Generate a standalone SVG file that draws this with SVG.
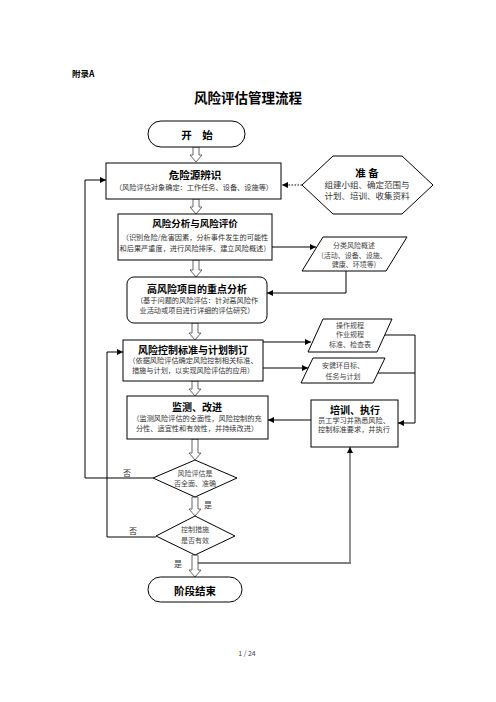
<svg xmlns="http://www.w3.org/2000/svg" width="496" height="702" viewBox="0 0 496 702">
<defs>
<style>
text{font-family:"Noto Sans CJK SC","Liberation Sans",sans-serif;text-anchor:middle;dominant-baseline:central;fill:#000}
.t{font-weight:bold;font-size:10px}
.s{font-size:7.2px;fill:#333}
.d{font-size:7px;fill:#444}
.box{fill:#fff;stroke:#000;stroke-width:1}
.dbl{fill:#fff;stroke:#666;stroke-width:1}
.ln{fill:none;stroke:#000;stroke-width:1}
</style>
<marker id="ah" viewBox="0 0 10 10" refX="10" refY="5" markerWidth="6" markerHeight="6" orient="auto" markerUnits="userSpaceOnUse"><path d="M0,0 L10,5 L0,10 z" fill="#000"/></marker>
</defs>
<rect width="496" height="702" fill="#fff"/>
<text x="72" y="73" style="font-size:8.5px;font-weight:bold;text-anchor:start">附录A</text>
<text x="248" y="97" style="font-size:13.5px;font-weight:bold">风险评估管理流程</text>
<text x="247" y="653" style="font-size:7px;fill:#444">1 / 24</text>

<g id="connectors">
<polygon class="dbl" points="193,147 199,147 199,155 202,155 196,162 190,155 193,155"/>
<polygon class="dbl" points="193,199 199,199 199,207 202,207 196,214 190,207 193,207"/>
<polygon class="dbl" points="193,260 199,260 199,270 202,270 196,277 190,270 193,270"/>
<polygon class="dbl" points="192,323 198,323 198,333 201,333 195,340 189,333 192,333"/>
<polygon class="dbl" points="192,381 198,381 198,389 201,389 195,396 189,389 192,389"/>
<polygon class="dbl" points="192,439 198,439 198,453 201,453 195,460 189,453 192,453"/>
<polygon class="dbl" points="192,497 198,497 198,509 201,509 195,516 189,509 192,509"/>
<polygon class="dbl" points="192,555 198,555 198,570 201,570 195,577 189,570 192,570"/>
<line x1="302" y1="185" x2="282" y2="185" stroke="#000" stroke-dasharray="1.5,1.5" marker-end="url(#ah)"/>
<line class="ln" x1="272" y1="247" x2="316" y2="247" marker-end="url(#ah)"/>
<polyline class="ln" points="346,271 346,293 267,293" marker-end="url(#ah)"/>
<line class="ln" x1="263" y1="342" x2="311" y2="342" marker-end="url(#ah)"/>
<line class="ln" x1="263" y1="368" x2="308" y2="368" marker-end="url(#ah)"/>
<polyline class="ln" points="385,335 415,335 415,423 398,423" marker-end="url(#ah)"/>
<line class="ln" x1="378" y1="373" x2="415" y2="373"/>
<line class="ln" x1="311" y1="420" x2="268" y2="420" marker-end="url(#ah)"/>
<polyline class="ln" points="153,478 85,478 85,180 106,180" marker-end="url(#ah)"/>
<polyline class="ln" points="156,537 107,537 107,352 123,352" marker-end="url(#ah)"/>
<line class="ln" x1="198" y1="563" x2="351" y2="563"/>
<line x1="350" y1="563" x2="350" y2="447" stroke="#777" stroke-width="1.6" marker-end="url(#ah)"/>
<text x="127" y="472" style="font-size:8px;fill:#333">否</text>
<text x="133" y="530" style="font-size:8px;fill:#333">否</text>
<text x="208" y="504" style="font-size:8px;fill:#333">是</text>
<text x="178" y="563" style="font-size:8px;fill:#333">是</text>
</g>

<g id="start">
<rect class="box" x="148" y="121" width="97" height="26" rx="13"/>
<text class="t" x="197" y="134" style="font-size:10.5px">开　始</text>
</g>

<g id="hazard">
<rect class="box" x="106" y="163" width="175" height="36"/>
<text class="t" x="195" y="174" style="font-size:10.5px">危险源辨识</text>
<text class="s" x="194" y="187">（风险评估对象确定：工作任务、设备、设施等）</text>
</g>

<g id="prepare">
<polygon class="box" points="302,185 333,156 402,156 433,185 402,214 333,214"/>
<text class="t" x="367" y="172" style="font-size:10.5px">准 备</text>
<text x="367" y="184" style="font-size:8.5px;fill:#333">组建小组、确定范围与</text>
<text x="367" y="195" style="font-size:8.5px;fill:#333">计划、培训、收集资料</text>
</g>

<g id="analysis">
<rect class="box" x="118" y="214" width="154" height="46"/>
<text class="t" x="195" y="223" style="font-size:9.5px">风险分析与风险评价</text>
<text class="s" x="195" y="237">（识别危险/危害因素，分析事件发生的可能性</text>
<text class="s" x="195" y="248">和后果严重度，进行风险排序、建立风险概述）</text>
</g>

<g id="classify">
<polygon class="box" points="323,237 407,237 386,271 302,271"/>
<text class="d" x="354" y="245">分类风险概述</text>
<text class="d" x="354" y="255">(活动、设备、设施、</text>
<text class="d" x="354" y="264">健康、环境等)</text>
</g>

<g id="highrisk">
<rect class="box" x="127" y="277" width="140" height="46" rx="7"/>
<text class="t" x="197" y="288">高风险项目的重点分析</text>
<text class="s" x="197" y="300">（基于问题的风险评估：针对高风险作</text>
<text class="s" x="197" y="310">业活动或项目进行详细的评估研究）</text>
</g>

<g id="control">
<rect class="box" x="123" y="340" width="140" height="41"/>
<text class="t" x="193" y="349">风险控制标准与计划制订</text>
<text class="s" x="193" y="360">（依据风险评估确定风险控制相关标准、</text>
<text class="s" x="193" y="370">措施与计划，以实现风险评估的应用）</text>
</g>

<g id="procedures">
<polygon class="box" points="323,319 392,319 377,352 308,352"/>
<text class="d" x="350" y="325">操作规程</text>
<text class="d" x="350" y="334">作业规程</text>
<text class="d" x="350" y="344">标准、检查表</text>
</g>

<g id="targets">
<polygon class="box" points="313,358 385,358 373,383 301,383"/>
<text class="d" x="343" y="365">安健环目标、</text>
<text class="d" x="343" y="376">任务与计划</text>
</g>

<g id="monitor">
<rect class="box" x="127" y="396" width="141" height="43"/>
<text class="t" x="197" y="406">监测、改进</text>
<text class="s" x="197" y="418">（监测风险评估的全面性，风险控制的充</text>
<text class="s" x="197" y="428">分性、适宜性和有效性，并持续改进）</text>
</g>

<g id="training">
<rect class="box" x="311" y="400" width="87" height="47"/>
<text class="t" x="355" y="409">培训、执行</text>
<text class="s" x="354" y="420">员工学习并熟悉风险、</text>
<text class="s" x="354" y="429">控制标准要求，并执行</text>
</g>

<g id="check1">
<polygon class="box" points="195,460 237,478 195,497 153,478"/>
<text class="d" x="195" y="473">风险评估是</text>
<text class="d" x="195" y="483">否全面、准确</text>
</g>

<g id="check2">
<polygon class="box" points="195,516 235,536 195,555 156,536"/>
<text class="d" x="195" y="529">控制措施</text>
<text class="d" x="195" y="540">是否有效</text>
</g>

<g id="end">
<rect class="box" x="148" y="577" width="94" height="25" rx="12.5"/>
<text class="t" x="195" y="590" style="font-size:10.5px">阶段结束</text>
</g>
</svg>
